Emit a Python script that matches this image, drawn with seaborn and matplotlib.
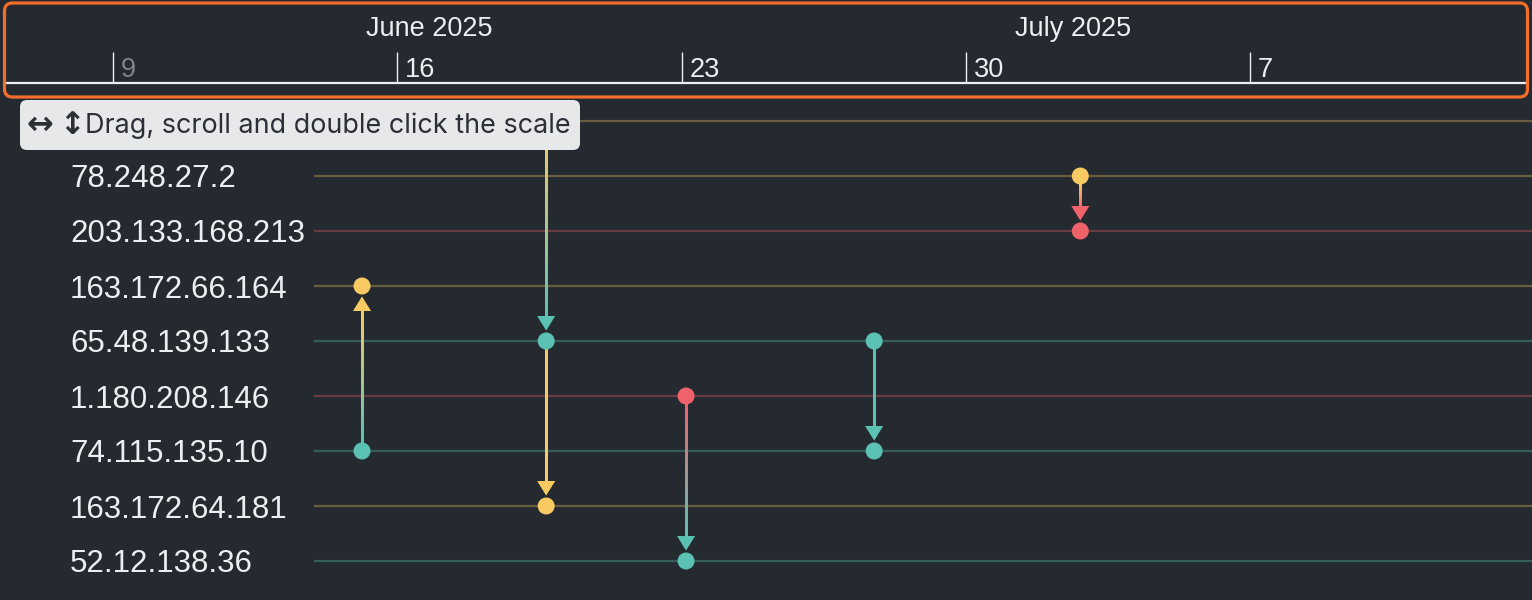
import numpy as np
import pandas as pd
import matplotlib
matplotlib.use("Agg")
import matplotlib.pyplot as plt
import matplotlib.dates as mdates
import matplotlib.transforms as mtransforms
from matplotlib.collections import LineCollection
from matplotlib.patches import FancyBboxPatch
from matplotlib.colors import to_rgb
import seaborn as sns

# rows (top to bottom); the first row's label sits under the hint box
ips = ["", "78.248.27.2", "203.133.168.213", "163.172.66.164", "65.48.139.133",
       "1.180.208.146", "74.115.135.10", "163.172.64.181", "52.12.138.36"]
ip_group = ["yellow", "yellow", "red", "yellow", "teal", "red", "teal", "yellow", "teal"]

# connections source -> target
edge_time = pd.to_datetime(["2025-06-15 03:10", "2025-06-19 16:00", "2025-06-19 16:00",
                            "2025-06-23 02:40", "2025-06-27 17:50", "2025-07-02 19:40"])
edge_src = ["74.115.135.10", "", "65.48.139.133", "1.180.208.146", "65.48.139.133", "78.248.27.2"]
edge_dst = ["163.172.66.164", "65.48.139.133", "163.172.64.181", "52.12.138.36",
            "74.115.135.10", "203.133.168.213"]
edge_blend = [True, True, False, True, True, True]

tick_days = pd.to_datetime(["2025-06-09", "2025-06-16", "2025-06-23", "2025-06-30", "2025-07-07"])
tick_labels = ["9", "16", "23", "30", "7"]
month_labels = ["June 2025", "July 2025"]
month_label_at = pd.to_datetime(["2025-06-16 18:40", "2025-07-02 15:40"])

palette = {"yellow": "#f8cb62", "teal": "#5bc2b3", "red": "#f0626a"}
BG = "#252a31"
FG = "#eceef1"

W, H = 1532, 600
DAY_PX = 40.61      # pixels per day
ORIGIN_PX = 113     # pixel column of the first tick day
ROW_PX = 55
ROW0_PX = 121

def px_to_num(p):
    return mdates.date2num(tick_days[0]) + (p - ORIGIN_PX) / DAY_PX

row_of = {ip: i for i, ip in enumerate(ips)}
group_of = dict(zip(ips, ip_group))

# point table for seaborn
pts = []
for t, s, d in zip(edge_time, edge_src, edge_dst):
    pts.append((t, row_of[s], group_of[s]))
    pts.append((t, row_of[d], group_of[d]))
points = pd.DataFrame(pts, columns=["time", "row", "group"]).drop_duplicates()

sns.set_style("dark", {"axes.facecolor": BG, "figure.facecolor": BG})
plt.rcParams["font.family"] = ["Liberation Sans", "DejaVu Sans"]

fig = plt.figure(figsize=(W / 100, H / 100), dpi=100)
fig.patch.set_facecolor(BG)

# ---- main panel
ax = fig.add_axes([314 / W, 0, 1 - 314 / W, (H - 100) / H])
ax.set_facecolor(BG)
for sp in ax.spines.values():
    sp.set_visible(False)
ax.grid(False)

for i, g in enumerate(ip_group):
    ax.axhline(i, color=palette[g], alpha=0.33, lw=1.6, zorder=1)

for t, s, d, blend in zip(edge_time, edge_src, edge_dst, edge_blend):
    x = mdates.date2num(t)
    y0, y1 = row_of[s], row_of[d]
    sgn = np.sign(y1 - y0)
    ys = np.linspace(y0 + sgn * 9 / ROW_PX, y1 - sgn * 22 / ROW_PX, 30)
    c0 = np.array(to_rgb(palette[group_of[s]] if blend else palette[group_of[d]]))
    c1 = np.array(to_rgb(palette[group_of[d]]))
    # solid base in the target colour, gradient pieces on top
    ax.plot([x, x], [ys[0], ys[-1]], color=c1, lw=2.0, zorder=2.9, solid_capstyle="butt")
    xy = np.column_stack([np.full_like(ys, x), ys])
    segs = np.stack([xy[:-1], xy[1:]], axis=1)
    f = np.linspace(0, 1, len(segs))[:, None]
    ax.add_collection(LineCollection(segs, colors=c0 * (1 - f) + c1 * f,
                                     linewidths=2.0, zorder=3, capstyle="projecting",
                                     antialiaseds=False))
    ax.annotate("", xy=(x, y1), xytext=(x, y0), zorder=4,
                arrowprops=dict(arrowstyle="-|>,head_length=10.5,head_width=6.5",
                                mutation_scale=1, lw=0, color=palette[group_of[d]],
                                shrinkA=0, shrinkB=7.5))

sns.scatterplot(data=points, x="time", y="row", hue="group", palette=palette,
                s=150, linewidth=0, legend=False, ax=ax, zorder=5)

ax.set_xlim(px_to_num(314), px_to_num(W))
ax.set_ylim((H - ROW0_PX) / ROW_PX, (100 - ROW0_PX) / ROW_PX)
ax.set_xticks([])
ax.set_yticks(range(len(ips)), ips)
ax.tick_params(axis="y", left=False, length=0, pad=(314 - 70) * 0.72,
               labelsize=22.5, labelcolor=FG)
for lab in ax.get_yticklabels():
    lab.set_ha("left")
ax.set_xlabel("")
ax.set_ylabel("")

# ---- time scale on top
axt = fig.add_axes([5 / W, (H - 83) / H, 1522 / W, 81 / H])
axt.set_facecolor(BG)
axt.set_xlim(px_to_num(5), px_to_num(1527))
axt.set_ylim(0, 1)
for k, sp in axt.spines.items():
    sp.set_visible(k == "bottom")
axt.spines["bottom"].set_color(FG)
axt.spines["bottom"].set_linewidth(1.6)
axt.set_yticks([])
axt.set_xticks(mdates.date2num(tick_days), [""] * len(tick_days))
axt.tick_params(axis="x", bottom=True, direction="in", length=31 * 0.72, width=1.0,
                color=FG)
axt.xaxis.get_major_ticks()[0].tick1line.set_color("#80858c")
axt.grid(False)
lab_tr = mtransforms.offset_copy(axt.get_xaxis_transform(), fig=fig, x=8, y=0, units="dots")
for i, (d, lab) in enumerate(zip(tick_days, tick_labels)):
    axt.text(mdates.date2num(d), 6 / 81, lab, transform=lab_tr, ha="left", va="baseline",
             fontsize=19.5, color="#80858c" if i == 0 else FG)
for d, lab in zip(month_label_at, month_labels):
    axt.text(mdates.date2num(d), 47 / 81, lab, transform=axt.get_xaxis_transform(),
             ha="center", va="baseline", fontsize=19.5, color=FG)

# orange frame around the scale
fig.patches.append(FancyBboxPatch((4.5, H - 97), 1523, 94,
                                  boxstyle="round,pad=0,rounding_size=8",
                                  fc="none", ec="#f36e2b", lw=2.3,
                                  transform=None, zorder=10))

# hint box
fig.patches.append(FancyBboxPatch((20, H - 150), 560, 50,
                                  boxstyle="round,pad=0,rounding_size=7",
                                  fc="#e7e8ea", ec="none", transform=None, zorder=11))
hint_col = "#2b2f36"
fig.text(26 / W, (H - 125) / H, "\u2194", fontsize=23, color=hint_col, zorder=12,
         ha="left", va="center", family=["DejaVu Sans"], fontweight="bold")
fig.text(59 / W, (H - 125) / H, "\u2195", fontsize=22, color=hint_col, zorder=12,
         ha="left", va="center", family=["DejaVu Sans"], fontweight="bold")
fig.text(85 / W, (H - 133) / H, "Drag, scroll and double click the scale", fontsize=19.4,
         color=hint_col, zorder=12, ha="left", va="baseline", family=["Inter", "DejaVu Sans"])

fig.savefig("out.png", dpi=100, facecolor=BG)
